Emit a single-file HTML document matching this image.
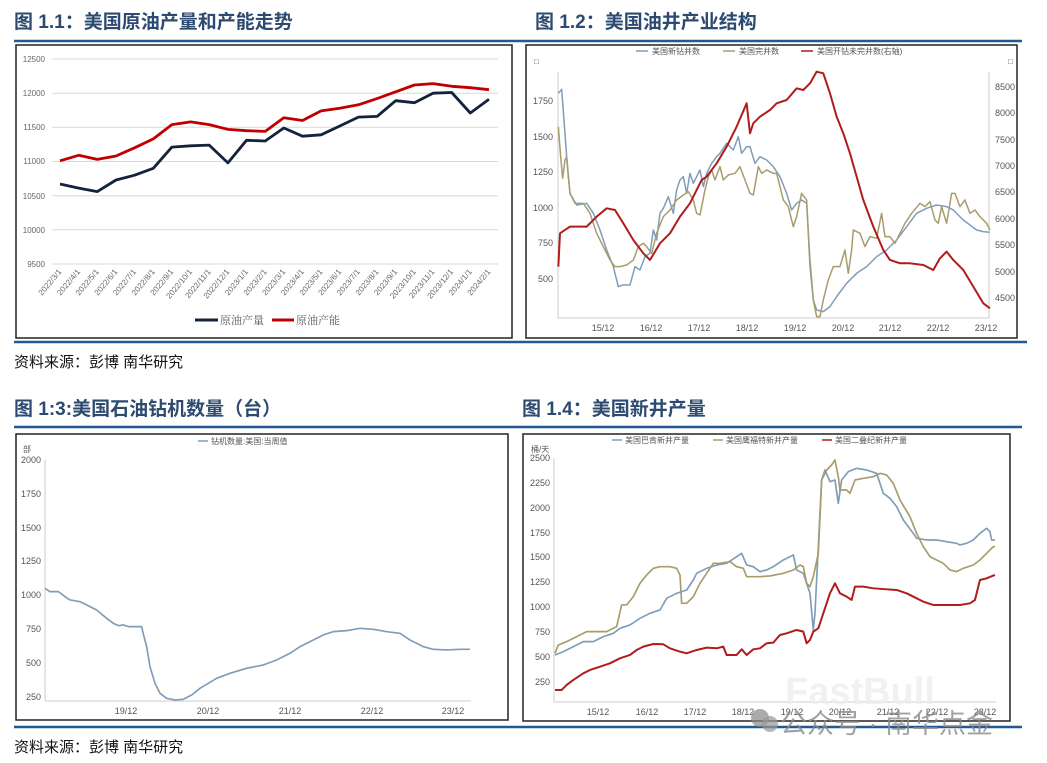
<!DOCTYPE html>
<html><head><meta charset="utf-8"><style>
html,body{margin:0;padding:0;background:#fff;}
svg{display:block;font-family:"Liberation Sans","Noto Sans CJK SC",sans-serif;}
.t{font-size:19px;font-weight:bold;fill:#2d4b70;}
.s{font-size:15px;fill:#111;}
.ax{font-size:8px;fill:#666;}
.ax2{font-size:9px;fill:#555;}
</style></head><body>
<svg width="1047" height="763" viewBox="0 0 1047 763">
<!-- titles -->
<text class="t" x="14" y="28">图 1.1：美国原油产量和产能走势</text>
<text class="t" x="535" y="28">图 1.2：美国油井产业结构</text>
<text class="t" x="14" y="415">图 1:3:美国石油钻机数量（台）</text>
<text class="t" x="522" y="415">图 1.4：美国新井产量</text>
<g stroke="#1f5a93" stroke-width="2.5">
<line x1="14" y1="41" x2="520" y2="41"/><line x1="520" y1="41" x2="1022" y2="41"/>
<line x1="14" y1="342" x2="1027" y2="342"/>
<line x1="14" y1="427" x2="520" y2="427"/><line x1="520" y1="427" x2="1022" y2="427"/>
<line x1="14" y1="727" x2="1022" y2="727"/>
</g>
<text class="s" x="14" y="367">资料来源：彭博 南华研究</text>
<text class="s" x="14" y="752">资料来源：彭博 南华研究</text>
<!-- boxes -->
<g fill="none" stroke="#222" stroke-width="1.5">
<rect x="16" y="45" width="496" height="293"/>
<rect x="526" y="45" width="491" height="293"/>
<rect x="16" y="434" width="492" height="286"/>
<rect x="523" y="434" width="487" height="287"/>
</g>

<!-- Chart 1 -->
<g stroke="#d9d9d9" stroke-width="1">
<line x1="52" y1="59" x2="498" y2="59"/><line x1="52" y1="93.2" x2="498" y2="93.2"/><line x1="52" y1="127.3" x2="498" y2="127.3"/><line x1="52" y1="161.5" x2="498" y2="161.5"/><line x1="52" y1="195.7" x2="498" y2="195.7"/><line x1="52" y1="229.8" x2="498" y2="229.8"/><line x1="52" y1="264" x2="498" y2="264"/>
</g>
<g class="ax" text-anchor="end">
<text x="45" y="62">12500</text><text x="45" y="96">12000</text><text x="45" y="130">11500</text><text x="45" y="164">11000</text><text x="45" y="199">10500</text><text x="45" y="233">10000</text><text x="45" y="267">9500</text>
</g>
<g class="ax" text-anchor="end" font-size="7.5">
<text transform="translate(62,272) rotate(-50)">2022/3/1</text>
<text transform="translate(80.7,272) rotate(-50)">2022/4/1</text>
<text transform="translate(99.3,272) rotate(-50)">2022/5/1</text>
<text transform="translate(118,272) rotate(-50)">2022/6/1</text>
<text transform="translate(136.6,272) rotate(-50)">2022/7/1</text>
<text transform="translate(155.3,272) rotate(-50)">2022/8/1</text>
<text transform="translate(173.9,272) rotate(-50)">2022/9/1</text>
<text transform="translate(192.6,272) rotate(-50)">2022/10/1</text>
<text transform="translate(211.2,272) rotate(-50)">2022/11/1</text>
<text transform="translate(229.9,272) rotate(-50)">2022/12/1</text>
<text transform="translate(248.5,272) rotate(-50)">2023/1/1</text>
<text transform="translate(267.2,272) rotate(-50)">2023/2/1</text>
<text transform="translate(285.8,272) rotate(-50)">2023/3/1</text>
<text transform="translate(304.5,272) rotate(-50)">2023/4/1</text>
<text transform="translate(323.1,272) rotate(-50)">2023/5/1</text>
<text transform="translate(341.8,272) rotate(-50)">2023/6/1</text>
<text transform="translate(360.4,272) rotate(-50)">2023/7/1</text>
<text transform="translate(379.1,272) rotate(-50)">2023/8/1</text>
<text transform="translate(397.7,272) rotate(-50)">2023/9/1</text>
<text transform="translate(416.4,272) rotate(-50)">2023/10/1</text>
<text transform="translate(435,272) rotate(-50)">2023/11/1</text>
<text transform="translate(453.7,272) rotate(-50)">2023/12/1</text>
<text transform="translate(472.3,272) rotate(-50)">2024/1/1</text>
<text transform="translate(491,272) rotate(-50)">2024/2/1</text>
</g>
<polyline fill="none" stroke="#c00000" stroke-width="2.8" stroke-linejoin="round" points="60,160.8 78.7,155.3 97.3,159.4 116,156 134.6,147.8 153.3,138.9 171.9,124.6 190.6,121.9 209.2,124.6 227.9,129.4 246.5,130.7 265.2,131.4 283.8,117.8 302.5,120.5 321.1,110.9 339.8,108.2 358.4,104.8 377.1,98.6 395.7,91.8 414.4,85 433,83.6 451.7,86.3 470.3,87.7 489,89.7"/>
<polyline fill="none" stroke="#14233c" stroke-width="2.8" stroke-linejoin="round" points="60,184 78.7,188.1 97.3,191.6 116,180 134.6,175.2 153.3,168.3 171.9,147.1 190.6,145.8 209.2,145.1 227.9,162.9 246.5,140.3 265.2,141 283.8,128 302.5,136.2 321.1,134.8 339.8,126 358.4,117.1 377.1,116.4 395.7,100.7 414.4,102.7 433,93.2 451.7,92.5 470.3,113 489,99.3"/>
<line x1="195" y1="320" x2="218" y2="320" stroke="#14233c" stroke-width="3"/>
<text x="220" y="324" font-size="11" fill="#555" font-family="Liberation Serif,Noto Serif CJK SC,serif">原油产量</text>
<line x1="272" y1="320" x2="294" y2="320" stroke="#c00000" stroke-width="3"/>
<text x="296" y="324" font-size="11" fill="#555" font-family="Liberation Serif,Noto Serif CJK SC,serif">原油产能</text>

<!-- Chart 2 -->
<g font-size="8" fill="#555">
<line x1="636" y1="51" x2="648" y2="51" stroke="#7f9db9" stroke-width="1.5"/><text x="652" y="54">美国新钻井数</text>
<line x1="723" y1="51" x2="735" y2="51" stroke="#a89c6c" stroke-width="1.5"/><text x="739" y="54">美国完井数</text>
<line x1="801" y1="51" x2="813" y2="51" stroke="#b01c1c" stroke-width="1.5"/><text x="817" y="54">美国开钻未完井数(右轴)</text>
<text x="534" y="64">□</text><text x="1008" y="64">□</text>
</g>
<g stroke="#ccc" stroke-width="1"><line x1="558" y1="72" x2="558" y2="318"/><line x1="989" y1="72" x2="989" y2="318"/><line x1="558" y1="318" x2="989" y2="318"/></g>
<g class="ax2" text-anchor="end"><text x="553" y="104">1750</text><text x="553" y="140">1500</text><text x="553" y="175">1250</text><text x="553" y="211">1000</text><text x="553" y="246">750</text><text x="553" y="282">500</text></g>
<g class="ax2"><text x="995" y="90">8500</text><text x="995" y="116">8000</text><text x="995" y="143">7500</text><text x="995" y="169">7000</text><text x="995" y="195">6500</text><text x="995" y="222">6000</text><text x="995" y="248">5500</text><text x="995" y="275">5000</text><text x="995" y="301">4500</text></g>
<g class="ax2" text-anchor="middle"><text x="603" y="331">15/12</text><text x="651" y="331">16/12</text><text x="699" y="331">17/12</text><text x="747" y="331">18/12</text><text x="795" y="331">19/12</text><text x="843" y="331">20/12</text><text x="890" y="331">21/12</text><text x="938" y="331">22/12</text><text x="986" y="331">23/12</text></g>
<g transform="translate(520,0) scale(0.3333)" fill="none" stroke-width="4.5" stroke-linejoin="round">
<polyline stroke="#7f9db9" points="115,280 125,268 135,400 140,470 150,580 170,615 200,610 220,640 240,690 260,750 280,800 295,860 310,855 330,855 345,800 360,810 375,770 390,760 400,690 410,720 420,640 430,625 445,590 460,640 470,570 480,540 490,530 500,580 510,520 520,550 540,510 550,560 560,520 575,490 590,470 600,460 620,430 640,450 655,410 665,460 680,440 690,440 705,490 720,470 740,480 760,500 780,530 800,580 815,630 830,610 845,600 860,610 870,780 880,900 890,930 910,935 930,920 950,890 980,850 1010,820 1040,800 1070,770 1100,750 1130,720 1160,680 1190,640 1220,625 1250,615 1280,620 1300,630 1330,660 1370,690 1390,695 1410,697"/>
<polyline stroke="#a89c6c" points="115,380 122,470 128,535 135,480 140,470 145,530 150,580 165,610 190,610 210,640 230,700 250,740 270,780 285,800 300,800 320,795 340,780 355,740 370,730 380,740 395,760 410,700 430,650 450,630 470,600 490,585 505,575 520,600 530,640 540,645 555,570 565,530 575,510 585,540 600,500 610,540 625,525 645,520 660,500 675,540 690,580 700,585 715,500 725,520 740,510 760,520 770,520 780,560 790,600 805,620 820,680 830,650 845,580 860,600 870,800 880,900 890,950 900,950 910,900 925,840 940,800 960,800 975,750 985,820 995,750 1000,690 1020,700 1035,740 1050,710 1070,715 1085,640 1095,710 1110,710 1125,730 1140,700 1155,670 1175,640 1200,610 1215,620 1230,605 1245,660 1255,670 1265,620 1280,670 1295,580 1305,580 1320,620 1335,600 1350,640 1365,630 1380,650 1400,670 1410,690"/>
<polyline stroke="#b01c1c" stroke-width="6" points="115,800 120,700 135,690 150,680 200,680 230,650 260,625 285,630 310,670 340,720 370,760 390,780 420,730 450,700 480,650 510,610 530,570 545,540 560,530 590,490 620,440 650,380 680,310 690,400 700,370 720,350 750,330 770,310 800,300 830,265 850,270 870,250 890,215 910,220 930,280 950,350 970,400 990,460 1010,530 1030,600 1060,680 1090,750 1110,780 1140,790 1170,790 1210,795 1240,810 1260,775 1280,755 1300,780 1330,810 1360,860 1390,910 1410,925"/>
</g>

<!-- Chart 3 -->
<g font-size="8" fill="#555">
<line x1="198" y1="441" x2="208" y2="441" stroke="#7f9db9" stroke-width="1.5"/><text x="211" y="444">钻机数量:美国:当周值</text>
<text x="23" y="452">部</text>
</g>
<g stroke="#ccc"><line x1="45" y1="460" x2="45" y2="701"/><line x1="45" y1="701" x2="471" y2="701"/></g>
<g class="ax2" text-anchor="end"><text x="41" y="463">2000</text><text x="41" y="497">1750</text><text x="41" y="531">1500</text><text x="41" y="564">1250</text><text x="41" y="598">1000</text><text x="41" y="632">750</text><text x="41" y="666">500</text><text x="41" y="700">250</text></g>
<g class="ax2" text-anchor="middle"><text x="126" y="714">19/12</text><text x="208" y="714">20/12</text><text x="290" y="714">21/12</text><text x="372" y="714">22/12</text><text x="453" y="714">23/12</text></g>
<g transform="translate(0,380) scale(0.3333)" fill="none" stroke-width="5" stroke-linejoin="round">
<polyline stroke="#7f9db9" points="135,625 150,635 175,635 195,650 210,660 240,665 270,680 290,690 320,715 340,730 355,737 370,735 385,740 400,740 425,740 432,770 440,800 450,860 465,910 480,940 500,955 525,960 550,958 575,945 600,925 625,910 650,895 690,880 740,865 790,855 830,840 870,820 900,800 940,780 970,765 1000,755 1040,752 1080,745 1120,748 1160,755 1200,760 1230,780 1270,800 1300,808 1340,810 1380,808 1410,808"/>
</g>

<!-- Chart 4 -->
<g font-size="8" fill="#555">
<line x1="612" y1="440" x2="622" y2="440" stroke="#7f9db9" stroke-width="1.5"/><text x="625" y="443">美国巴肯新井产量</text>
<line x1="713" y1="440" x2="723" y2="440" stroke="#a89c6c" stroke-width="1.5"/><text x="726" y="443">美国鹰福特新井产量</text>
<line x1="822" y1="440" x2="832" y2="440" stroke="#b01c1c" stroke-width="1.5"/><text x="835" y="443">美国二叠纪新井产量</text>
<text x="531" y="452">桶/天</text>
</g>
<g stroke="#ccc"><line x1="554" y1="458" x2="554" y2="702"/><line x1="554" y1="702" x2="996" y2="702"/></g>
<g class="ax2" text-anchor="end"><text x="550" y="461">2500</text><text x="550" y="486">2250</text><text x="550" y="511">2000</text><text x="550" y="536">1750</text><text x="550" y="560">1500</text><text x="550" y="585">1250</text><text x="550" y="610">1000</text><text x="550" y="635">750</text><text x="550" y="660">500</text><text x="550" y="685">250</text></g>
<g class="ax2" text-anchor="middle"><text x="598" y="715">15/12</text><text x="647" y="715">16/12</text><text x="695" y="715">17/12</text><text x="743" y="715">18/12</text><text x="792" y="715">19/12</text><text x="840" y="715">20/12</text><text x="888" y="715">21/12</text><text x="937" y="715">22/12</text><text x="985" y="715">23/12</text></g>
<g transform="translate(520,380) scale(0.3333)" fill="none" stroke-width="5" stroke-linejoin="round">
<polyline stroke="#7f9db9" points="105,825 130,815 160,800 190,785 220,785 250,770 280,760 300,745 330,735 360,715 390,700 420,690 440,655 470,640 500,630 520,600 530,580 560,565 590,555 620,550 650,530 665,520 680,555 700,560 720,575 740,570 760,560 790,540 820,525 830,570 850,580 870,640 880,750 885,700 895,500 905,300 915,270 930,305 945,300 955,370 965,300 985,275 1010,265 1040,270 1070,280 1090,340 1110,355 1130,380 1150,420 1180,460 1190,475 1220,480 1250,480 1280,485 1310,490 1320,495 1340,490 1360,480 1380,460 1400,445 1410,455 1415,480 1425,480"/>
<polyline stroke="#a89c6c" points="105,820 115,795 140,785 170,770 200,755 230,755 260,755 290,740 305,675 320,675 340,650 360,610 380,585 400,565 420,560 450,560 470,565 480,585 485,670 500,670 520,650 540,610 560,580 580,550 600,550 630,545 650,560 670,565 680,590 720,590 750,588 790,580 820,570 840,555 850,560 860,610 870,620 880,590 895,520 905,300 920,270 935,255 945,240 955,290 960,330 980,330 990,340 1005,300 1030,295 1060,290 1080,280 1100,285 1120,310 1140,360 1170,410 1190,460 1210,500 1230,530 1250,540 1270,550 1290,570 1310,575 1330,565 1360,555 1380,540 1400,520 1420,500 1425,500"/>
<polyline stroke="#b01c1c" stroke-width="6" points="105,930 125,930 140,915 160,900 190,880 210,870 240,860 270,850 300,835 330,825 350,810 370,800 400,792 430,793 450,805 480,815 500,820 530,810 560,803 590,805 610,800 620,825 650,825 665,808 680,825 700,808 720,805 740,790 760,788 780,765 800,760 830,750 850,755 860,790 870,780 880,755 895,745 910,700 930,640 945,610 960,640 980,650 995,660 1005,620 1030,620 1060,625 1100,628 1130,630 1160,640 1190,655 1210,665 1240,675 1280,675 1320,675 1350,670 1365,660 1380,600 1400,595 1425,585"/>
</g>
<!-- watermark -->
<text x="785" y="704" font-size="38" font-weight="bold" fill="#eeeeee" opacity="0.8">FastBull</text>
<circle cx="760" cy="718" r="9" fill="#888" opacity="0.7"/><circle cx="770" cy="724" r="8" fill="#999" opacity="0.7"/>
<text x="780" y="733" font-size="27" fill="#8a8a8a" opacity="0.8">公众号 · 南华点金</text>
</svg>
</body></html>
